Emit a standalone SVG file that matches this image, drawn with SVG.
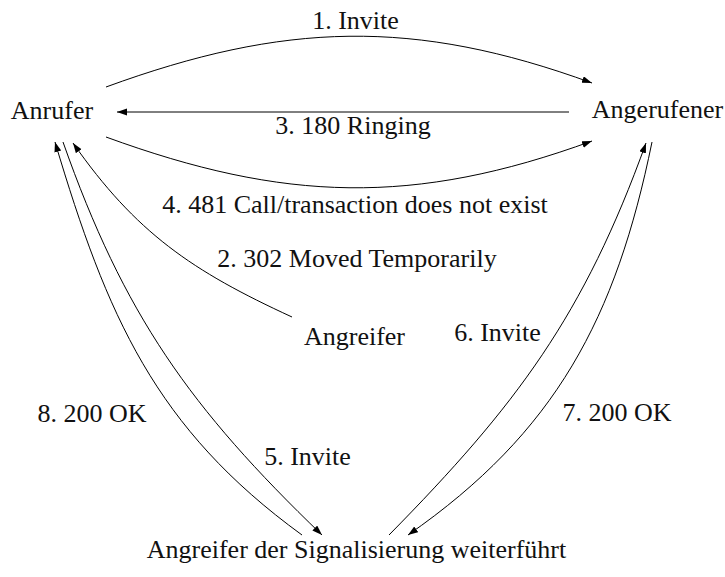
<svg xmlns="http://www.w3.org/2000/svg" width="725" height="577" viewBox="0 0 725 577">
<style>
  text { font-family: "Liberation Serif", "DejaVu Serif", serif; font-size: 26px; fill: #111; text-anchor: middle; }
  .edge { fill: none; stroke: #000; stroke-width: 1; marker-end: url(#ah); }
  .plain { fill: none; stroke: #000; stroke-width: 1; }
</style>
<defs>
  <marker id="ah" markerUnits="userSpaceOnUse" markerWidth="11" markerHeight="8" refX="10" refY="3.5" orient="auto">
    <path d="M0,0 L10,3.5 L0,7 Z" fill="#000"/>
  </marker>
</defs>
<rect width="725" height="577" fill="#fff"/>
<g id="nodes">
  <g id="anrufer"><text x="52" y="119">Anrufer</text></g>
  <g id="angerufener"><text x="657.5" y="118">Angerufener</text></g>
  <g id="angreifer"><text x="354.5" y="345">Angreifer</text></g>
  <g id="angreifer-sig"><text x="356.5" y="558">Angreifer der Signalisierung weiterführt</text></g>
</g>
<g id="connectors">
  <path class="edge" d="M106,87 C284,22 414,18 592,83"/>
  <path class="edge" d="M569,112 L117,112"/>
  <path class="edge" d="M106,137 C284,202 414,206 592,141"/>
  <path class="edge" d="M292,317 C192,271 136,233 73,143"/>
  <path class="edge" d="M63,142 C124,315 190,408 322,535"/>
  <path class="edge" d="M302,535 C155,428 107,316 55,142"/>
  <path class="edge" d="M389,535 C517,405 584,315 646,143"/>
  <path class="edge" d="M652,142 C616,318 556,432 408,535"/>
</g>
<g id="labels">
  <text x="355.5" y="29">1. Invite</text>
  <text x="353" y="134">3. 180 Ringing</text>
  <text x="355" y="213">4. 481 Call/transaction does not exist</text>
  <text x="357" y="267">2. 302 Moved Temporarily</text>
  <text x="497.5" y="341">6. Invite</text>
  <text x="92" y="422">8. 200 OK</text>
  <text x="617" y="421">7. 200 OK</text>
  <text x="307.5" y="465">5. Invite</text>
</g>
</svg>
